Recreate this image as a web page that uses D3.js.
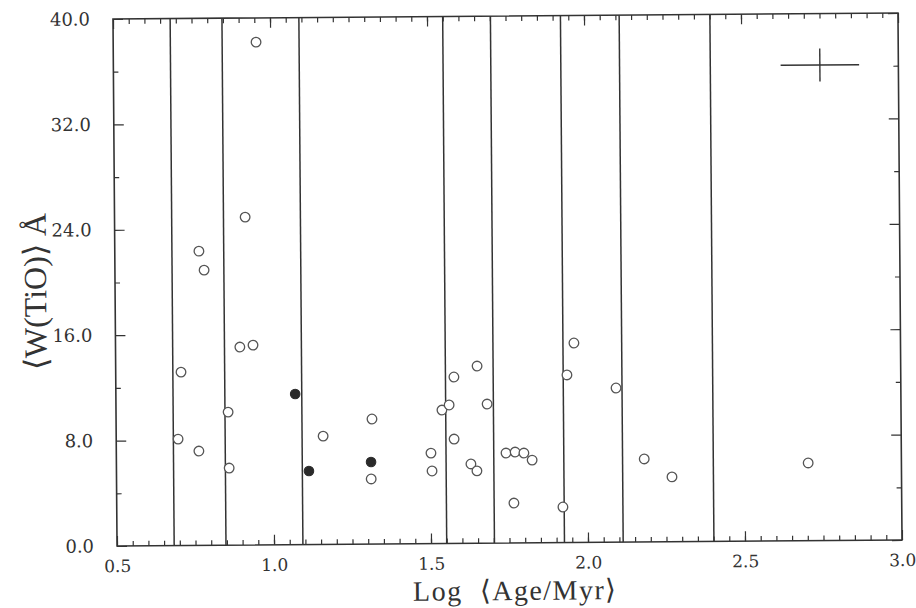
<!DOCTYPE html>
<html>
<head>
<meta charset="utf-8">
<script src="https://cdn.jsdelivr.net/npm/d3@7"></script>
<style>
  html, body { margin: 0; padding: 0; background: #fff; }
  svg { display: block; }
</style>
</head>
<body>
<div id="chart"></div>
<script>
// log age (Myr) and mean W(TiO) in Angstrom
var openAge = [0.955, 0.916, 0.768, 0.784, 0.896, 0.938, 0.708, 0.857, 0.697, 0.763,
               0.859, 1.159, 1.315, 1.311, 1.502, 1.505, 1.538, 1.561, 1.576, 1.577,
               1.651, 1.629, 1.648, 1.682, 1.741, 1.770, 1.798, 1.824, 1.765, 1.921,
               1.960, 1.937, 2.093, 2.181, 2.269, 2.703];
var openTiO = [38.16, 24.89, 22.33, 20.89, 15.03, 15.17, 13.16, 10.10, 8.08, 7.16,
               5.85, 8.22, 9.49, 4.94, 6.87, 5.51, 10.13, 10.51, 7.92, 12.63,
               13.45, 6.02, 5.49, 10.56, 6.83, 6.90, 6.82, 6.28, 3.03, 2.70,
               15.14, 12.72, 11.70, 6.30, 4.92, 5.90];
var filledAge = [1.071, 1.113, 1.311];
var filledTiO = [11.43, 5.58, 6.23];

// vertical age-bin boundaries
var binEdges = [0.682, 0.847, 1.092, 1.550, 1.702, 1.925, 2.112, 2.401];

// typical error bar (centre, half widths)
var errX = [2.75, 0.125];
var errY = [36.1, 1.25];

var xMajor = [0.5, 1.0, 1.5, 2.0, 2.5, 3.0];
var xMinor = d3.range(0.55, 3.0, 0.05);
var yMajor = [0, 8, 16, 24, 32, 40];
var yMinor = [4, 12, 20, 28, 36];

var W = 916, H = 608;
var frame = { left: 115, right: 900, top: 16, bottom: 543 };
var ink = "#333";

var svg = d3.select("#chart").append("svg")
    .attr("width", W)
    .attr("height", H);

// the scanned figure is tilted a little
var g = svg.append("g")
    .attr("transform", "rotate(-0.44," + (frame.left + frame.right) / 2 + "," + (frame.top + frame.bottom) / 2 + ")");

var x = d3.scaleLinear().domain([0.5, 3.0]).range([frame.left, frame.right]);
var y = d3.scaleLinear().domain([0, 40]).range([frame.bottom, frame.top]);

function tidy(sel) {
    sel.select(".domain").remove();
    sel.selectAll(".tick line").attr("stroke", ink).attr("stroke-width", 1.2);
}

// ticks pointing inward on all four sides
g.append("g").attr("transform", "translate(0," + frame.bottom + ")")
    .call(d3.axisBottom(x).tickValues(xMinor).tickSize(-5).tickFormat(""))
    .call(tidy);
g.append("g").attr("transform", "translate(0," + frame.bottom + ")")
    .call(d3.axisBottom(x).tickValues(xMajor).tickSize(-10).tickPadding(14).tickFormat(d3.format(".1f")))
    .call(tidy)
    .selectAll("text")
    .attr("fill", ink)
    .style("font-family", "'DejaVu Serif', serif")
    .style("font-size", "17px");
g.append("g").attr("transform", "translate(0," + frame.top + ")")
    .call(d3.axisTop(x).tickValues(xMinor).tickSize(-5).tickFormat(""))
    .call(tidy);
g.append("g").attr("transform", "translate(0," + frame.top + ")")
    .call(d3.axisTop(x).tickValues(xMajor).tickSize(-10).tickFormat(""))
    .call(tidy);

g.append("g").attr("transform", "translate(" + frame.left + ",0)")
    .call(d3.axisLeft(y).tickValues(yMinor).tickSize(-5).tickFormat(""))
    .call(tidy);
g.append("g").attr("transform", "translate(" + frame.left + ",0)")
    .call(d3.axisLeft(y).tickValues(yMajor).tickSize(-10).tickPadding(23).tickFormat(d3.format(".1f")))
    .call(tidy)
    .selectAll("text")
    .attr("fill", ink)
    .style("font-family", "'DejaVu Serif', serif")
    .style("font-size", "18px");
g.append("g").attr("transform", "translate(" + frame.right + ",0)")
    .call(d3.axisRight(y).tickValues(yMinor).tickSize(-5).tickFormat(""))
    .call(tidy);
g.append("g").attr("transform", "translate(" + frame.right + ",0)")
    .call(d3.axisRight(y).tickValues(yMajor).tickSize(-10).tickFormat(""))
    .call(tidy);

// frame
g.append("rect")
    .attr("x", frame.left)
    .attr("y", frame.top)
    .attr("width", frame.right - frame.left)
    .attr("height", frame.bottom - frame.top)
    .attr("fill", "none")
    .attr("stroke", ink)
    .attr("stroke-width", 1.6);

// bin boundaries
g.selectAll(".edge").data(binEdges).enter().append("line")
    .attr("class", "edge")
    .attr("x1", d => x(d)).attr("x2", d => x(d))
    .attr("y1", y(0)).attr("y2", y(40))
    .attr("stroke", ink)
    .attr("stroke-width", 1.5);

// error cross
g.append("line")
    .attr("x1", x(errX[0] - errX[1])).attr("x2", x(errX[0] + errX[1]))
    .attr("y1", y(errY[0])).attr("y2", y(errY[0]))
    .attr("stroke", ink).attr("stroke-width", 1.4);
g.append("line")
    .attr("x1", x(errX[0])).attr("x2", x(errX[0]))
    .attr("y1", y(errY[0] - errY[1])).attr("y2", y(errY[0] + errY[1]))
    .attr("stroke", ink).attr("stroke-width", 1.4);

// points
g.selectAll(".open").data(d3.range(openAge.length)).enter().append("circle")
    .attr("class", "open")
    .attr("cx", i => x(openAge[i]))
    .attr("cy", i => y(openTiO[i]))
    .attr("r", 4.8)
    .attr("fill", "#fff")
    .attr("stroke", "#555")
    .attr("stroke-width", 1.3);

g.selectAll(".filled").data(d3.range(filledAge.length)).enter().append("circle")
    .attr("class", "filled")
    .attr("cx", i => x(filledAge[i]))
    .attr("cy", i => y(filledTiO[i]))
    .attr("r", 4.8)
    .attr("fill", "#2a2a2a")
    .attr("stroke", "#2a2a2a")
    .attr("stroke-width", 1);

// axis titles
g.append("text")
    .attr("x", 513)
    .attr("y", 600)
    .attr("text-anchor", "middle")
    .attr("fill", ink)
    .style("font-family", "'Liberation Serif', serif")
    .style("font-size", "28px")
    .style("letter-spacing", "1.5px")
    .text("Log\u00A0\u00A0\u27E8Age/Myr\u27E9");

g.append("text")
    .attr("transform", "translate(46,288) rotate(-90)")
    .attr("text-anchor", "middle")
    .attr("fill", ink)
    .style("font-family", "'Liberation Serif', serif")
    .style("font-size", "32px")
    .text("\u27E8W(TiO)\u27E9\u00A0\u00C5");
</script>
</body>
</html>
